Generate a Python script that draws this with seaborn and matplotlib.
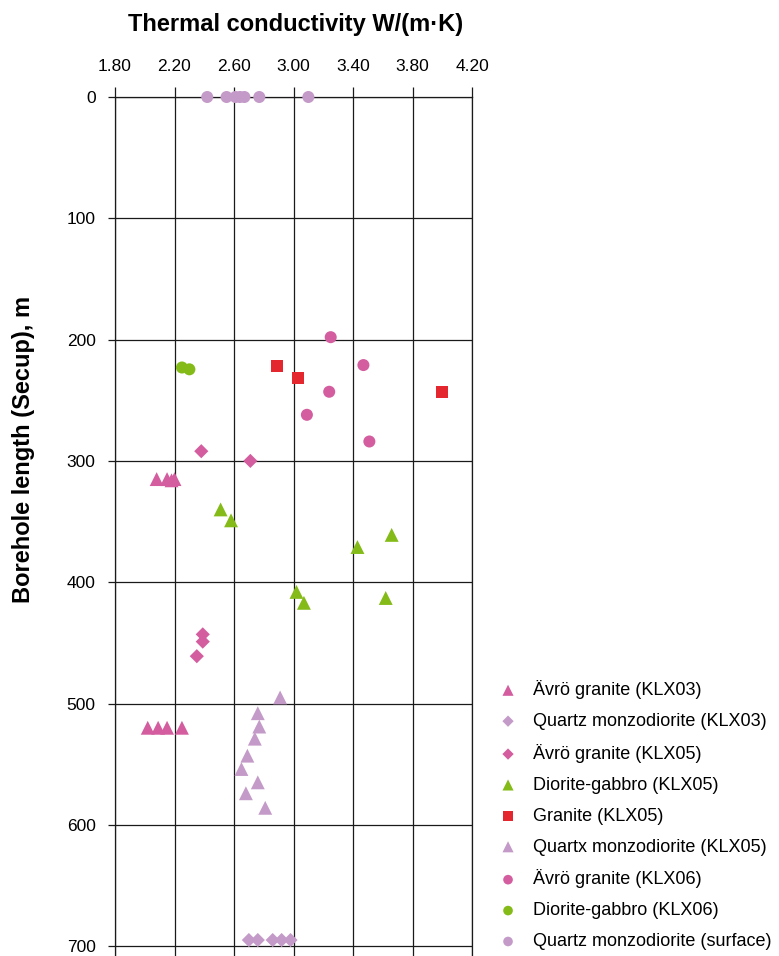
import matplotlib
matplotlib.use("Agg")
import matplotlib.pyplot as plt
import seaborn as sns
import pandas as pd

sns.set_theme(style="white")
plt.rcParams["font.family"] = ["Liberation Sans", "DejaVu Sans"]
plt.rcParams["text.color"] = "black"

# Thermal conductivity (W/(m·K)) against borehole length (m) per rock type / borehole
avro_klx03_tc = [2.08, 2.15, 2.18, 2.20, 2.02, 2.09, 2.15, 2.25]
avro_klx03_depth = [315, 315, 316, 315, 520, 520, 520, 520]

qmd_klx03_tc = [2.70, 2.76, 2.86, 2.92, 2.98]
qmd_klx03_depth = [695, 695, 695, 695, 695]

avro_klx05_tc = [2.38, 2.71, 2.39, 2.39, 2.35]
avro_klx05_depth = [292, 300, 443, 449, 461]

dg_klx05_tc = [2.51, 2.58, 3.66, 3.43, 3.02, 3.07, 3.62]
dg_klx05_depth = [340, 349, 361, 371, 408, 417, 413]

granite_klx05_tc = [2.89, 3.03, 4.00]
granite_klx05_depth = [222, 232, 243]

qmd_klx05_tc = [2.91, 2.76, 2.77, 2.74, 2.69, 2.65, 2.76, 2.68, 2.81]
qmd_klx05_depth = [495, 508, 519, 529, 543, 554, 565, 574, 586]

avro_klx06_tc = [3.25, 3.47, 3.24, 3.09, 3.51]
avro_klx06_depth = [198, 221, 243, 262, 284]

dg_klx06_tc = [2.25, 2.30]
dg_klx06_depth = [223, 224.5]

qmd_surface_tc = [2.42, 2.55, 2.61, 2.64, 2.67, 2.77, 3.10]
qmd_surface_depth = [0, 0, 0, 0, 0, 0, 0]

x_ticks = [1.80, 2.20, 2.60, 3.00, 3.40, 3.80, 4.20]
y_ticks = [0, 100, 200, 300, 400, 500, 600, 700]

PINK = "#D35D9F"
LILAC = "#C49BC8"
GREEN = "#84BB18"
RED = "#E4262F"

series = [
    ("Ävrö granite (KLX03)", avro_klx03_tc, avro_klx03_depth, "^", PINK, 100),
    ("Quartz monzodiorite (KLX03)", qmd_klx03_tc, qmd_klx03_depth, "D", LILAC, 52),
    ("Ävrö granite (KLX05)", avro_klx05_tc, avro_klx05_depth, "D", PINK, 52),
    ("Diorite-gabbro (KLX05)", dg_klx05_tc, dg_klx05_depth, "^", GREEN, 100),
    ("Granite (KLX05)", granite_klx05_tc, granite_klx05_depth, "s", RED, 75),
    ("Quartx monzodiorite (KLX05)", qmd_klx05_tc, qmd_klx05_depth, "^", LILAC, 100),
    ("Ävrö granite (KLX06)", avro_klx06_tc, avro_klx06_depth, "o", PINK, 75),
    ("Diorite-gabbro (KLX06)", dg_klx06_tc, dg_klx06_depth, "o", GREEN, 75),
    ("Quartz monzodiorite (surface)", qmd_surface_tc, qmd_surface_depth, "o", LILAC, 75),
]

W, H = 779, 956
fig = plt.figure(figsize=(W / 100, H / 100), dpi=100)
ax_left, ax_right, ax_top = 115, 472, 97
ax = fig.add_axes([ax_left / W, 0, (ax_right - ax_left) / W, (H - ax_top) / H])

for name, tc, depth, marker, color, size in series:
    df = pd.DataFrame({"tc": tc, "depth": depth})
    sns.scatterplot(data=df, x="tc", y="depth", marker=marker, color=color, s=size,
                    edgecolor="none", linewidth=0, label=name, ax=ax,
                    clip_on=False, zorder=3)

ax.set_xlim(1.80, 4.20)
ax.set_ylim((H - ax_top) / 1.213, 0)
ax.set_xticks(x_ticks)
ax.set_xticklabels([f"{v:.2f}" for v in x_ticks])
ax.set_yticks(y_ticks)
ax.set_xlabel("")
ax.set_ylabel("")

line_color = "#1a1a1a"
ax.grid(True, color=line_color, linewidth=0.9)
ax.set_axisbelow(True)
for side in ["left", "right", "top"]:
    ax.spines[side].set_visible(True)
    ax.spines[side].set_color(line_color)
    ax.spines[side].set_linewidth(0.9)
ax.spines["bottom"].set_visible(False)

ax.xaxis.tick_top()
ax.tick_params(axis="x", which="both", top=True, bottom=False, length=7, width=0.9,
               color=line_color, pad=9.5, labelsize=12.5, labelcolor="black")
ax.tick_params(axis="y", which="both", left=True, right=False, length=5, width=0.9,
               color=line_color, pad=9, labelsize=12.5, labelcolor="black")

fig.text(296 / W, 1 - 24 / H, "Thermal conductivity W/(m·K)", ha="center", va="center",
         fontsize=17, fontweight="bold", color="black")
fig.text(24 / W, 1 - 449 / H, "Borehole length (Secup), m", ha="center", va="center",
         rotation=90, fontsize=17, fontweight="bold", color="black")

leg = ax.legend(loc="upper left", bbox_to_anchor=(499 / W, 1 - 680 / H),
                bbox_transform=fig.transFigure, frameon=False, fontsize=13,
                borderpad=0, borderaxespad=0, handlelength=1.0, handletextpad=0.9,
                labelspacing=0.77, markerscale=0.8)
for t in leg.get_texts():
    t.set_color("black")

fig.savefig("out.png", dpi=100)
